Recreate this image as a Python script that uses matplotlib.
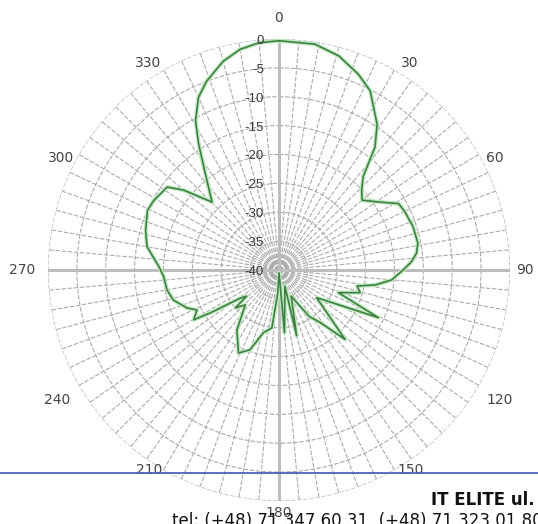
import numpy as np
import matplotlib
matplotlib.use("Agg")
import matplotlib.pyplot as plt
from matplotlib.lines import Line2D

plt.rcParams["font.family"] = ["Liberation Sans", "DejaVu Sans"]

# antenna pattern: angle (deg, clockwise from north) and level (dB)
angles_deg = [0, 9, 15.6, 22, 27, 34, 38, 42, 46, 50, 55.7, 61, 65, 72, 79, 83, 86.4, 90,
              95, 98.8, 101.6, 105.6, 110.9, 115.6, 126.3, 136.4, 142, 147, 155, 165, 160,
              175, 178, 183, 187, 194, 200, 206, 215, 224, 229, 231, 234, 238, 239.7, 244,
              247.5, 254, 260, 266.7, 271.6, 280, 286.6, 294.4, 299, 306.6, 310, 315.4,
              322.6, 327.5, 330.8, 335, 339, 345, 350, 355, 360]
gain_db = [-0.3, -0.4, -1.5, -3.4, -5.2, -9.6, -13, -18.2, -20.1, -21.2, -19.1, -16.3, -16,
           -15.6, -15.5, -16, -17, -18.5, -20.4, -23.1, -26.2, -25.4, -29, -20.9, -31.9,
           -23.4, -28.5, -30.4, -35, -28.2, -37, -29.1, -39.5, -36, -29.9, -28.8, -25.3,
           -24, -27.3, -31.6, -30, -32.8, -31.7, -26, -22.9, -24.2, -22.8, -21, -20.3, -20,
           -19.2, -16.8, -15.9, -15, -15.2, -15.9, -18.5, -23.5, -19, -14.1, -10.4, -7, -5,
           -2.6, -1.2, -0.5, -0.3]

ring_db = [0, -5, -10, -15, -20, -25, -30, -35, -40]
ring_labels = ["0", "-5", "-10", "-15", "-20", "-25", "-30", "-35", "-40"]
spoke_deg = np.arange(0, 360, 5)
label_deg = [0, 30, 60, 90, 120, 150, 180, 210, 240, 270, 300, 330]

# where the old chart put its angle labels (pixels from the centre, y down)
label_offsets = {0: (0, -252), 30: (131, -207), 60: (216, -112), 90: (246, 0),
                 120: (221, 130), 150: (132, 200), 180: (0, 243), 210: (-130, 200),
                 240: (-222, 130), 270: (-257, 0), 300: (-218, -112), 330: (-131, -207)}

fig = plt.figure(figsize=(5.38, 5.24), dpi=100)
ax = fig.add_axes([0.0892, 0.0439, 0.8587, 0.8817], projection="polar")
ax.set_theta_zero_location("N")
ax.set_theta_direction(-1)
ax.set_rlim(-40, 0)

ax.set_thetagrids(spoke_deg, [""] * len(spoke_deg))
ax.set_rgrids(ring_db[:-1], [""] * (len(ring_db) - 1))
ax.grid(True, color="#ababab", linestyle=(0, (4, 1.5)), linewidth=0.8)
ax.spines["polar"].set_visible(False)

# main cross axes
for a in [0, 90, 180, 270]:
    ax.axvline(np.deg2rad(a), color="#bdbdbd", linewidth=2.2, zorder=2)

for a in label_deg:
    dx, dy = label_offsets[a]
    ax.annotate(str(a), xy=(0, -40), xytext=(dx, -dy), textcoords="offset pixels",
                ha="center", va="center", fontsize=10, family="DejaVu Sans",
                color="#444444", annotation_clip=False)

for r, lab in zip(ring_db, ring_labels):
    ax.annotate(lab, xy=(0, r), xytext=(-15, -2), textcoords="offset pixels",
                ha="right", va="center", fontsize=9.5, color="#3a3a3a", zorder=4)

theta = np.deg2rad(angles_deg)
ax.plot(theta, gain_db, color="#bfe9bf", linewidth=3, zorder=3)
ax.plot(theta, gain_db, color="#3f7f44", linewidth=1.2, zorder=3)

# page elements around the picture
fig.add_artist(Line2D([0, 1], [0.0973, 0.0973], transform=fig.transFigure,
                      color="#4a64b4", linewidth=1.3, zorder=10))
fig.text(0.994, 0.0363, "IT ELITE ul.", ha="right", va="baseline", fontsize=12,
         fontweight="bold", family="DejaVu Sans", color="#111111")
fig.text(0.32, -0.004, "tel: (+48) 71 347 60 31, (+48) 71 323 01 80", ha="left",
         va="baseline", fontsize=12, family="DejaVu Sans", color="#111111")

plt.savefig("out.png", dpi=100)
